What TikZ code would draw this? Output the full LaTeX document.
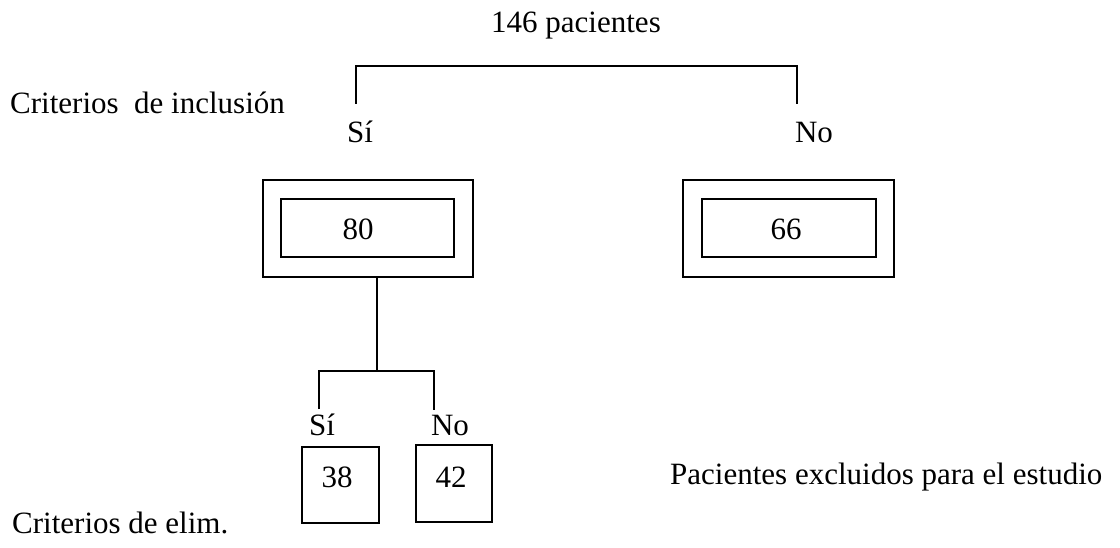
\documentclass[tikz,border=0pt]{standalone}
\usepackage{fontspec}
\setmainfont{Liberation Serif}
\begin{document}
\begin{tikzpicture}[x=1pt,y=-1pt,
  txt/.style={inner sep=0pt,anchor=base,font=\fontsize{31}{37}\selectfont},
  txtl/.style={txt,anchor=base west},
  boxo/.style={draw,line width=1.6pt,inner sep=0pt},
  boxi/.style={draw,line width=1.4pt,inner sep=0pt},
  conn/.style={line width=1.4pt}]
\useasboundingbox (0,0) rectangle (1120,548);
% texts
\node[txt] (tot) at (576,33) {146 pacientes};
\node[txtl] (crinc) at (10,114) {Criterios\ \ de inclusión};
\node[txt] (si1) at (360,143) {Sí};
\node[txt] (no1) at (814,143) {No};
\node[txtl] (excl) at (670,484) {Pacientes excluidos para el estudio};
\node[txtl] (crel) at (12,533) {Criterios de elim.};
% boxes
\node[boxo,minimum width=210pt,minimum height=97pt] (o80) at (368,228.5) {};
\node[boxi,minimum width=173pt,minimum height=58pt] (i80) at (367.5,228) {};
\node[txt] (t80) at (358,240) {80};
\node[boxo,minimum width=211pt,minimum height=97pt] (o66) at (788.5,228.5) {};
\node[boxi,minimum width=174pt,minimum height=58pt] (i66) at (789,228) {};
\node[txt] (t66) at (786,240) {66};
\node[boxi,minimum width=77pt,minimum height=76pt] (b38) at (340.5,485) {};
\node[txt] (t38) at (337,487) {38};
\node[boxi,minimum width=76pt,minimum height=77pt] (b42) at (454,483.5) {};
\node[txt] (t42) at (451,487) {42};
\node[txt] (si2) at (322,435) {Sí};
\node[txt] (no2) at (450,435) {No};
% top bracket
\coordinate (tl) at (356,66);
\coordinate (tr) at (797,66);
\coordinate (tlb) at (356,104);
\coordinate (trb) at (797,104);
\draw[conn] (tlb) -- (tl) -- (tr) -- (trb);
% lower bracket
\coordinate (j) at (377,371);
\coordinate (jl) at (319,371);
\coordinate (jr) at (434,371);
\coordinate (jlb) at (319,409);
\coordinate (jrb) at (434,410);
\draw[conn] (j |- o80.south) -- (j);
\draw[conn] (jlb) -- (jl) -- (jr) -- (jrb);
\end{tikzpicture}
\end{document}
